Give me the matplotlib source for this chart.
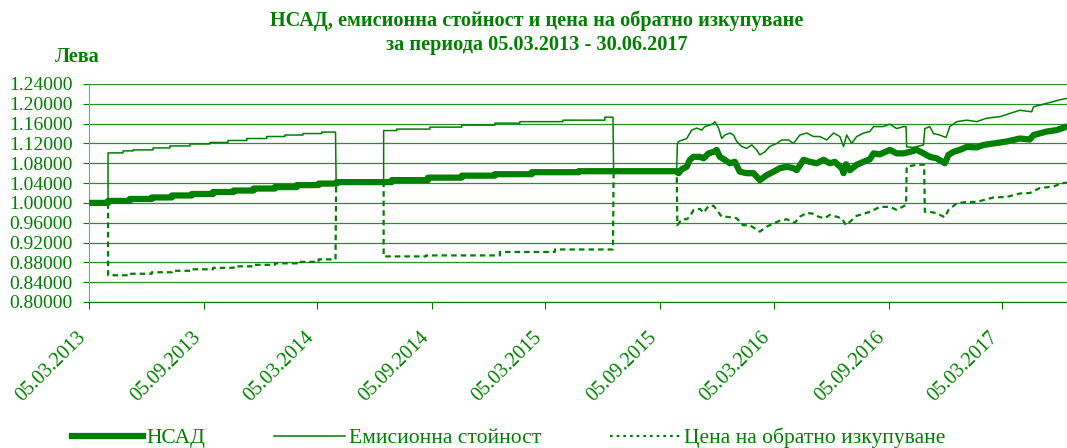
import matplotlib
matplotlib.use('Agg')
import matplotlib.pyplot as plt
import matplotlib.dates as mdates
from matplotlib.ticker import FormatStrFormatter
from matplotlib.lines import Line2D
import pandas as pd

plt.rcParams['font.family'] = ['Liberation Serif', 'DejaVu Serif']

GREEN = '#008000'

title = 'НСАД, емисионна стойност и цена на обратно изкупуване\nза периода 05.03.2013 - 30.06.2017'
y_label = 'Лева'
series_names = ['НСАД', 'Емисионна стойност', 'Цена на обратно изкупуване']

# НСАД (step points are given twice on the same date)
nav_dates = [
    '2013-03-05', '2013-04-04', '2013-04-04', '2013-05-09', '2013-05-09', '2013-06-13', '2013-06-13',
    '2013-07-15', '2013-07-15', '2013-08-16', '2013-08-16', '2013-09-19', '2013-09-19',
    '2013-10-22', '2013-10-22', '2013-11-23', '2013-11-23', '2013-12-27', '2013-12-27',
    '2014-01-31', '2014-01-31', '2014-03-07', '2014-03-07', '2014-04-05', '2014-04-05',
    '2014-07-02', '2014-07-02', '2014-08-29', '2014-08-29', '2014-10-22', '2014-10-22',
    '2014-12-14', '2014-12-14', '2015-02-11', '2015-02-11', '2015-04-27', '2015-04-27',
    '2015-10-01', '2015-10-04', '2015-10-09', '2015-10-17', '2015-10-22', '2015-10-28',
    '2015-11-07', '2015-11-13', '2015-11-21', '2015-11-29', '2015-12-04', '2015-12-09',
    '2015-12-17', '2015-12-25', '2016-01-02', '2016-01-10', '2016-01-21', '2016-02-01',
    '2016-02-11', '2016-02-22', '2016-03-04', '2016-03-14', '2016-03-25', '2016-04-05',
    '2016-04-10', '2016-04-21', '2016-05-01', '2016-05-12', '2016-05-23', '2016-06-02',
    '2016-06-10', '2016-06-21', '2016-06-24', '2016-06-28', '2016-07-04', '2016-07-15',
    '2016-07-26', '2016-08-05', '2016-08-11', '2016-08-21', '2016-09-06', '2016-09-17',
    '2016-09-28', '2016-10-08', '2016-10-19', '2016-10-30', '2016-11-09', '2016-11-20',
    '2016-12-03', '2016-12-09', '2016-12-17', '2016-12-27', '2017-01-07', '2017-01-23',
    '2017-02-03', '2017-02-19', '2017-03-12', '2017-04-02', '2017-04-18', '2017-04-24',
    '2017-05-15', '2017-05-31', '2017-06-16', '2017-06-30',
]
nav_values = [
    1.000, 1.000, 1.004, 1.004, 1.008, 1.008, 1.011,
    1.011, 1.015, 1.015, 1.018, 1.018, 1.022,
    1.022, 1.025, 1.025, 1.029, 1.029, 1.032,
    1.032, 1.036, 1.036, 1.039, 1.039, 1.042,
    1.042, 1.046, 1.046, 1.051, 1.051, 1.055,
    1.055, 1.058, 1.058, 1.062, 1.062, 1.064,
    1.064, 1.060, 1.068, 1.073, 1.087, 1.093,
    1.093, 1.090, 1.100, 1.103, 1.107, 1.093,
    1.087, 1.080, 1.083, 1.063, 1.060, 1.060,
    1.046, 1.056, 1.063, 1.070, 1.073, 1.070,
    1.066, 1.087, 1.083, 1.080, 1.087, 1.080,
    1.083, 1.070, 1.060, 1.078, 1.066, 1.077,
    1.083, 1.088, 1.100, 1.098, 1.107, 1.100,
    1.100, 1.103, 1.107, 1.100, 1.093, 1.090,
    1.080, 1.097, 1.103, 1.107, 1.113, 1.112,
    1.117, 1.120, 1.124, 1.130, 1.128, 1.137,
    1.144, 1.147, 1.154, 1.156,
]

# Емисионна стойност
issue_dates = [
    '2013-03-05', '2013-04-04', '2013-04-04', '2013-04-28', '2013-04-28', '2013-05-14', '2013-05-14',
    '2013-06-15', '2013-06-15', '2013-07-12', '2013-07-12', '2013-08-13', '2013-08-13',
    '2013-09-14', '2013-09-14', '2013-10-13', '2013-10-13', '2013-11-12', '2013-11-12',
    '2013-12-14', '2013-12-14', '2014-01-12', '2014-01-12', '2014-02-10', '2014-02-10',
    '2014-03-12', '2014-03-12', '2014-04-03', '2014-04-04', '2014-06-19', '2014-06-19',
    '2014-07-10', '2014-07-10', '2014-09-01', '2014-09-01', '2014-10-22', '2014-10-22',
    '2014-12-14', '2014-12-14', '2015-01-23', '2015-01-23', '2015-04-02', '2015-04-02',
    '2015-06-08', '2015-06-08', '2015-06-21', '2015-06-22', '2015-10-01', '2015-10-02',
    '2015-10-04', '2015-10-17', '2015-10-25', '2015-11-02', '2015-11-10', '2015-11-15',
    '2015-11-23', '2015-11-29', '2015-12-01', '2015-12-07', '2015-12-12', '2015-12-17',
    '2015-12-25', '2015-12-31', '2016-01-05', '2016-01-13', '2016-01-21', '2016-01-29',
    '2016-02-06', '2016-02-11', '2016-02-19', '2016-02-27', '2016-03-09', '2016-03-17',
    '2016-03-28', '2016-04-05', '2016-04-15', '2016-04-26', '2016-05-07', '2016-05-17',
    '2016-05-28', '2016-06-08', '2016-06-18', '2016-06-24', '2016-06-29', '2016-07-07',
    '2016-07-15', '2016-07-26', '2016-08-05', '2016-08-11', '2016-08-26', '2016-09-06',
    '2016-09-17', '2016-09-28', '2016-10-02', '2016-10-03', '2016-10-13', '2016-10-30',
    '2016-11-01', '2016-11-09', '2016-11-15', '2016-11-25', '2016-12-05', '2016-12-11',
    '2016-12-22', '2017-01-07', '2017-01-23', '2017-02-08', '2017-03-01', '2017-04-02',
    '2017-04-21', '2017-04-24', '2017-05-15', '2017-06-05', '2017-06-16', '2017-06-30',
]
issue_values = [
    1.000, 1.000, 1.101, 1.101, 1.105, 1.105, 1.107,
    1.107, 1.111, 1.111, 1.115, 1.115, 1.119,
    1.119, 1.122, 1.122, 1.126, 1.126, 1.130,
    1.130, 1.134, 1.134, 1.137, 1.137, 1.140,
    1.140, 1.143, 1.143, 1.042, 1.042, 1.146,
    1.146, 1.149, 1.149, 1.153, 1.153, 1.157,
    1.157, 1.161, 1.161, 1.164, 1.164, 1.167,
    1.167, 1.173, 1.173, 1.064, 1.064, 1.120,
    1.124, 1.130, 1.147, 1.151, 1.147, 1.154,
    1.157, 1.161, 1.164, 1.151, 1.130, 1.137,
    1.141, 1.137, 1.124, 1.114, 1.110, 1.117,
    1.107, 1.097, 1.103, 1.114, 1.120, 1.127,
    1.127, 1.120, 1.137, 1.141, 1.134, 1.134,
    1.127, 1.141, 1.134, 1.114, 1.137, 1.120,
    1.134, 1.141, 1.144, 1.154, 1.154, 1.159,
    1.150, 1.154, 1.154, 1.113, 1.112, 1.117,
    1.150, 1.154, 1.140, 1.137, 1.132, 1.154,
    1.164, 1.167, 1.164, 1.171, 1.174, 1.187,
    1.184, 1.194, 1.201, 1.208, 1.211, 1.213,
]

# Цена на обратно изкупуване
redeem_dates = [
    '2013-03-05', '2013-04-04', '2013-04-04', '2013-05-09', '2013-05-09', '2013-06-13', '2013-06-13',
    '2013-07-15', '2013-07-15', '2013-08-16', '2013-08-16', '2013-09-19', '2013-09-19',
    '2013-10-22', '2013-10-22', '2013-11-23', '2013-11-23', '2013-12-27', '2013-12-27',
    '2014-01-31', '2014-01-31', '2014-03-07', '2014-03-07', '2014-04-03', '2014-04-04',
    '2014-06-19', '2014-06-19', '2014-08-26', '2014-08-26', '2014-12-22', '2014-12-22',
    '2015-03-20', '2015-03-20', '2015-06-21', '2015-06-22', '2015-10-01', '2015-10-02',
    '2015-10-09', '2015-10-17', '2015-10-22', '2015-10-28', '2015-11-07', '2015-11-13',
    '2015-11-21', '2015-11-29', '2015-12-04', '2015-12-12', '2015-12-20', '2016-01-05',
    '2016-01-15', '2016-01-26', '2016-02-11', '2016-02-22', '2016-03-04', '2016-03-14',
    '2016-03-25', '2016-04-07', '2016-04-15', '2016-04-26', '2016-05-07', '2016-05-15',
    '2016-05-25', '2016-06-02', '2016-06-13', '2016-06-21', '2016-06-28', '2016-07-07',
    '2016-07-15', '2016-07-26', '2016-08-05', '2016-08-21', '2016-09-06', '2016-09-17',
    '2016-10-02', '2016-10-03', '2016-10-19', '2016-10-31', '2016-11-01', '2016-11-09',
    '2016-11-20', '2016-12-03', '2016-12-09', '2016-12-22', '2017-01-07', '2017-01-23',
    '2017-02-19', '2017-03-12', '2017-04-02', '2017-04-18', '2017-05-04', '2017-05-26',
    '2017-06-08', '2017-06-30',
]
redeem_values = [
    1.000, 1.000, 0.854, 0.854, 0.857, 0.857, 0.860,
    0.860, 0.863, 0.863, 0.866, 0.866, 0.869,
    0.869, 0.872, 0.872, 0.875, 0.875, 0.878,
    0.878, 0.881, 0.881, 0.886, 0.886, 1.042,
    1.042, 0.892, 0.892, 0.894, 0.894, 0.901,
    0.901, 0.906, 0.906, 1.064, 1.064, 0.955,
    0.967, 0.967, 0.972, 0.986, 0.988, 0.980,
    0.994, 0.994, 0.986, 0.972, 0.972, 0.969,
    0.955, 0.955, 0.942, 0.952, 0.959, 0.964,
    0.967, 0.960, 0.972, 0.980, 0.978, 0.972,
    0.969, 0.976, 0.972, 0.969, 0.955, 0.965,
    0.974, 0.978, 0.982, 0.992, 0.992, 0.986,
    0.996, 1.073, 1.077, 1.077, 0.982, 0.982,
    0.979, 0.971, 0.986, 0.999, 1.002, 1.002,
    1.011, 1.012, 1.019, 1.020, 1.030, 1.033,
    1.040, 1.042,
]

y_ticks = [0.80, 0.84, 0.88, 0.92, 0.96, 1.00, 1.04, 1.08, 1.12, 1.16, 1.20, 1.24]
x_ticks = ['2013-03-05', '2013-09-05', '2014-03-05', '2014-09-05', '2015-03-05',
           '2015-09-05', '2016-03-05', '2016-09-05', '2017-03-05']

fig = plt.figure(figsize=(10.67, 4.48), dpi=100)
ax = fig.add_axes([89.3 / 1067, 146 / 448, (1075.4 - 89.3) / 1067, 218 / 448])

ax.plot(pd.to_datetime(nav_dates), nav_values, color=GREEN, lw=4.5, solid_capstyle='butt', zorder=3)
ax.plot(pd.to_datetime(issue_dates), issue_values, color=GREEN, lw=1.1, zorder=4)
ax.plot(pd.to_datetime(redeem_dates), redeem_values, color=GREEN, lw=1.6,
        linestyle=(0, (2.5, 1.8)), zorder=4)

ax.set_xlim(pd.Timestamp('2013-03-05'), pd.Timestamp('2017-06-30'))
ax.set_ylim(0.80, 1.24)
ax.set_yticks(y_ticks)
ax.yaxis.set_major_formatter(FormatStrFormatter('%.5f'))
ax.set_xticks(pd.to_datetime(x_ticks))
ax.xaxis.set_major_formatter(mdates.DateFormatter('%d.%m.%Y'))

ax.grid(axis='y', color='#2a8f2a', lw=0.9)
ax.set_axisbelow(True)
for s in ['top', 'right']:
    ax.spines[s].set_visible(False)
ax.spines['left'].set_color('#66b366')
ax.spines['bottom'].set_color(GREEN)
ax.tick_params(axis='y', colors=GREEN, labelsize=14, length=4, pad=8, labelcolor=GREEN)
ax.tick_params(axis='x', colors=GREEN, labelsize=14.5, length=5, pad=14, labelcolor=GREEN)
for lab in ax.get_xticklabels():
    lab.set_rotation(45)
    lab.set_ha('right')
    lab.set_va('top')

fig.text(0.503, 1 - 21 / 448, title.split('\n')[0], ha='center', va='center',
         fontsize=14.6, fontweight='bold', color=GREEN)
fig.text(0.503, 1 - 45 / 448, title.split('\n')[1], ha='center', va='center',
         fontsize=14.6, fontweight='bold', color=GREEN)
fig.text(77 / 1067, 1 - 57 / 448, y_label, ha='center', va='center',
         fontsize=14.5, fontweight='bold', color=GREEN)

handles = [
    Line2D([], [], color=GREEN, lw=4.5),
    Line2D([], [], color=GREEN, lw=1.1),
    Line2D([], [], color=GREEN, lw=1.6, linestyle=(0, (1.2, 1.8))),
]
fig.legend(handles, series_names, loc='center', bbox_to_anchor=(0.477, 0.022), ncol=3,
           frameon=False, fontsize=15.5, handlelength=3.3, handletextpad=0.15,
           columnspacing=3.2, labelcolor=GREEN)

fig.savefig('out.png', dpi=100)
